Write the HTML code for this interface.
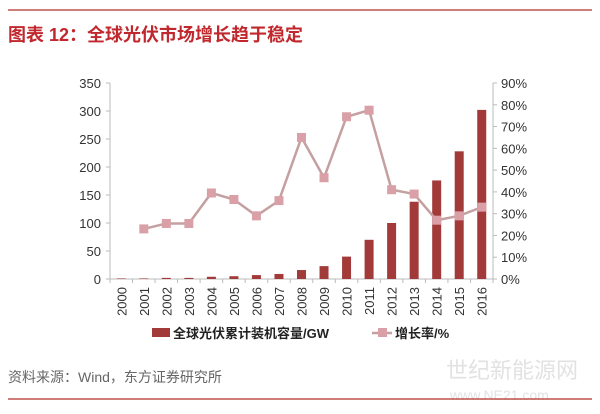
<!DOCTYPE html>
<html><head><meta charset="utf-8"><style>
body{margin:0;background:#fff;width:600px;height:409px;overflow:hidden;font-family:"Liberation Sans","Noto Sans CJK SC",sans-serif}
</style></head><body>
<svg width="600" height="409" xmlns="http://www.w3.org/2000/svg" font-family="Liberation Sans, Noto Sans CJK SC, sans-serif">
<line x1="8" y1="10" x2="592" y2="10" stroke="#c0504d" stroke-width="1.5"/>
<text x="8" y="41" font-size="18" font-weight="bold" fill="#c0282d">图表 12：全球光伏市场增长趋于稳定</text>
<g id="axes"></g>
<g id="bars"></g>
<g id="line"></g>
<g>
<rect x="152" y="328" width="18" height="9" fill="#a33a3a"/>
<text x="173" y="338" font-size="13" font-weight="bold" fill="#222">全球光伏累计装机容量/GW</text>
<line x1="372" y1="333" x2="392" y2="333" stroke="#c4a0a0" stroke-width="2.5"/>
<rect x="378" y="328" width="9" height="9" fill="#d9a0a8"/>
<text x="395" y="338" font-size="13" font-weight="bold" fill="#222">增长率/%</text>
</g>
<text x="8" y="382" font-size="14" fill="#666">资料来源：Wind，东方证券研究所</text>
<text x="446" y="378" font-size="22" fill="#e2e2e2">世纪新能源网</text>
<text x="450" y="400" font-size="14" fill="#e2e2e2">www.NE21.com</text>
<line x1="8" y1="399" x2="592" y2="399" stroke="#c0504d" stroke-width="1.5"/>
</svg>
<script>
const categories=["2000","2001","2002","2003","2004","2005","2006","2007","2008","2009","2010","2011","2012","2013","2014","2015","2016"];
const capacity=[1,1,2,2,4,5,7,9,16,23,40,70,100,138,176,228,302];
const growth=[null,23,25.5,25.5,39.5,36.5,29,36,65,46.5,74.5,77.5,41,39,27,29,33];
const leftTicks=[0,50,100,150,200,250,300,350];
const rightTicks=[0,10,20,30,40,50,60,70,80,90];
const NS="http://www.w3.org/2000/svg";
const X0=110,X1=493,Y0=279,YT=83;
const bw=(X1-X0)/categories.length;
const xc=i=>X0+bw*(i+0.5);
const yL=v=>Y0-(v/350)*(Y0-YT);
const yR=v=>Y0-(v/90)*(Y0-YT);
function mk(tag,attrs,parent,txt){const e=document.createElementNS(NS,tag);for(const k in attrs)e.setAttribute(k,attrs[k]);if(txt!=null)e.textContent=txt;parent.appendChild(e);return e;}
const ax=document.getElementById('axes'),bg=document.getElementById('bars'),lg=document.getElementById('line');
let e;
e=mk('line',{x1:X0,y1:YT,x2:X0,y2:Y0,stroke:'#bbb'},ax);


e=mk('line',{x1:X1,y1:YT,x2:X1,y2:Y0,stroke:'#bbb'},ax);


e=mk('line',{x1:X0,y1:Y0,x2:X1,y2:Y0,stroke:'#bbb'},ax);


leftTicks.forEach(t=>{mk('line',{x1:X0-4,y1:yL(t),x2:X0,y2:yL(t),stroke:'#bbb'},ax);
e=mk('text',{x:X0-9,y:yL(t)+5,'font-size':13,'text-anchor':'end',fill:'#333'},ax,t);

});
rightTicks.forEach(t=>{mk('line',{x1:X1,y1:yR(t),x2:X1+4,y2:yR(t),stroke:'#bbb'},ax);
e=mk('text',{x:X1+8,y:yR(t)+5,'font-size':13,fill:'#333'},ax,t+'%');

});
for(let i=0;i<=categories.length;i++)mk('line',{x1:X0+bw*i,y1:Y0,x2:X0+bw*i,y2:Y0+4,stroke:'#bbb'},ax);
categories.forEach((c,i)=>{e=mk('text',{x:0,y:0,'font-size':13,'text-anchor':'end',fill:'#333',transform:`translate(${xc(i)+5},${Y0+8}) rotate(-90)`},ax,c);

});
capacity.forEach((v,i)=>{e=mk('rect',{x:xc(i)-4.5,y:yL(v),width:9,height:Y0-yL(v),fill:'#a33a3a'},bg);

});
const pts=growth.map((v,i)=>v==null?null:[xc(i),yR(v)]).filter(p=>p);
e=mk('polyline',{points:pts.map(p=>p.join(',')).join(' '),fill:'none',stroke:'#c4a0a0','stroke-width':2.5},lg);


growth.forEach((v,i)=>{if(v==null)return;e=mk('rect',{x:xc(i)-4.5,y:yR(v)-4.5,width:9,height:9,fill:'#d9a0a8'},lg);

});
</script>
</body></html>
